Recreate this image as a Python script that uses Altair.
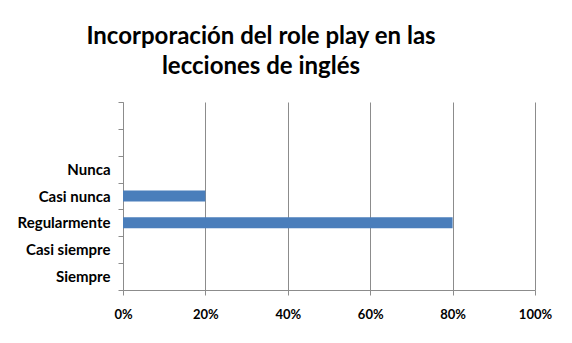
import altair as alt
import pandas as pd

categories = ["Siempre", "Casi siempre", "Regularmente", "Casi nunca", "Nunca"]
values = [0.0, 0.0, 0.8, 0.2, 0.0]
domain_top_to_bottom = ["  ", " ", "Nunca", "Casi nunca", "Regularmente", "Casi siempre", "Siempre"]
x_ticks = [0, 0.2, 0.4, 0.6, 0.8, 1.0]
title_lines = ["Incorporación del role play en las", "lecciones de inglés"]

df = pd.DataFrame({"cat": categories, "val": values})

FONT = "Lato"

chart = alt.Chart(df).mark_bar(size=11, color="#4A7EBB").encode(
    x=alt.X("val:Q",
            scale=alt.Scale(domain=[0, 1], nice=False),
            axis=alt.Axis(values=x_ticks, format=".0%", title=None, grid=True,
                          gridColor="#8C8C8C", domainColor="#8C8C8C", tickColor="#8C8C8C",
                          tickSize=5, labelPadding=13, labelFont=FONT, labelFontSize=13,
                          labelFontWeight="bold", labelColor="#000000", labelFlush=False)),
    y=alt.Y("cat:N",
            scale=alt.Scale(domain=domain_top_to_bottom, paddingInner=0, paddingOuter=0),
            sort=domain_top_to_bottom,
            axis=alt.Axis(title=None, tickBand="extent", domainColor="#8C8C8C", tickColor="#8C8C8C",
                          tickSize=5, labelPadding=8, labelFont=FONT, labelFontSize=15,
                          labelFontWeight="bold", labelColor="#000000", grid=False)),
).properties(
    width=412,
    height=188,
    title=alt.TitleParams(text=title_lines, font=FONT, fontSize=24, fontWeight="bold",
                          anchor="middle", dx=-68, offset=16, lineHeight=30, color="#000000"),
    autosize=alt.AutoSizeParams(type="none"),
    padding={"left": 115, "top": 94, "right": 25, "bottom": 45},
).configure_view(stroke=None)

chart.save("out.html", embed_options={"renderer": "svg", "actions": False})
